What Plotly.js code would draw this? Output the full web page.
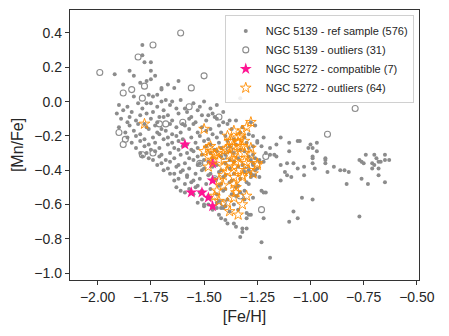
<!DOCTYPE html>
<html>
<head>
<meta charset="utf-8">
<script src="https://cdn.plot.ly/plotly-3.0.1.min.js"></script>
<style>
  html, body { margin: 0; padding: 0; background: #fff; }
  #chart { width: 449px; height: 336px; }
</style>
</head>
<body>
<div id="chart"></div>
<script>
// NGC 5139 reference sample: [Fe/H] and [Mn/Fe]
var refFeH = [
  // upper-left sparse part
  -1.79,-1.79,-1.78,-1.75,-1.92,-1.85,-1.83,-1.75,-1.73,-1.75,-1.77,-1.80,-1.88,-1.67,-1.64,-1.62,-1.70,-1.70,
  -1.76,-1.74,-1.72,-1.83,-1.70,-1.68,-1.65,-1.61,-1.77,-1.75,-1.50,-1.48,-1.46,-1.33,-1.28,-1.14,-1.06,
  // dense band
  -1.90,-1.86,-1.81,-1.72,-1.66,-1.59,-1.55,-1.52,-1.44,
  -1.88,-1.84,-1.79,-1.74,-1.69,-1.63,-1.58,-1.53,-1.47,-1.41,
  -1.91,-1.85,-1.80,-1.77,-1.71,-1.67,-1.62,-1.56,-1.51,-1.44,-1.38,
  -1.89,-1.86,-1.82,-1.78,-1.75,-1.72,-1.69,-1.65,-1.60,-1.57,-1.54,-1.49,-1.45,-1.41,-1.35,
  -1.90,-1.85,-1.81,-1.77,-1.73,-1.70,-1.66,-1.63,-1.59,-1.55,-1.51,-1.47,-1.43,-1.39,-1.32,-1.26,
  -1.87,-1.83,-1.80,-1.76,-1.72,-1.68,-1.65,-1.61,-1.57,-1.53,-1.49,-1.46,-1.42,-1.37,-1.33,-1.29,
  -1.86,-1.82,-1.78,-1.74,-1.71,-1.67,-1.63,-1.60,-1.56,-1.52,-1.48,-1.44,-1.40,-1.36,-1.31,-1.27,-1.22,
  -1.84,-1.80,-1.76,-1.73,-1.69,-1.65,-1.62,-1.58,-1.54,-1.50,-1.47,-1.43,-1.39,-1.35,-1.30,-1.25,
  -1.82,-1.78,-1.75,-1.71,-1.67,-1.64,-1.60,-1.56,-1.53,-1.49,-1.45,-1.42,-1.38,-1.33,-1.29,-1.23,
  -1.77,-1.73,-1.70,-1.66,-1.62,-1.58,-1.55,-1.51,-1.47,-1.44,-1.40,-1.36,-1.31,-1.27,-1.21,
  -1.76,-1.71,-1.68,-1.64,-1.61,-1.57,-1.53,-1.50,-1.46,-1.42,-1.38,-1.34,-1.29,-1.24,
  -1.70,-1.66,-1.62,-1.59,-1.55,-1.52,-1.48,-1.44,-1.40,-1.36,-1.32,-1.27,-1.22,
  -1.67,-1.63,-1.60,-1.57,-1.53,-1.50,-1.46,-1.42,-1.38,-1.34,-1.29,-1.25,
  -1.64,-1.61,-1.58,-1.54,-1.51,-1.47,-1.43,-1.40,-1.36,-1.31,-1.26,
  -1.62,-1.58,-1.55,-1.52,-1.48,-1.45,-1.41,-1.37,-1.33,-1.28,
  -1.59,-1.56,-1.53,-1.49,-1.46,-1.42,-1.38,-1.34,-1.29,
  -1.57,-1.54,-1.51,-1.47,-1.43,-1.40,-1.35,-1.31,
  -1.55,-1.52,-1.48,-1.44,-1.41,-1.37,-1.33,
  -1.51,-1.47,-1.43,-1.39,-1.35,-1.31,
  -1.48,-1.44,-1.40,-1.36,
  -1.46,-1.42,-1.38,-1.34,
  // lower-left edge
  -1.80,-1.79,-1.74,-1.72,-1.69,-1.66,-1.64,-1.63,-1.61,-1.59,-1.53,-1.50,-1.50,-1.44,-1.43,-1.42,-1.40,-1.39,-1.36,-1.35,-1.41,
  // right tail
  -1.27,-1.25,-1.19,-1.16,-1.10,-1.05,-1.00,-0.97,-0.99,-1.01,-0.97,-1.10,-1.19,-1.17,-1.16,-1.14,-1.11,-1.08,
  -1.12,-1.11,-1.09,-1.14,-1.06,-1.03,-1.03,-0.99,-0.99,-0.99,-0.98,-0.93,-0.93,-0.93,-0.92,-0.89,-0.86,-0.84,
  -0.82,-0.83,-0.74,-0.70,-0.65,-0.77,-0.76,-0.75,-0.71,-0.70,-0.69,-0.68,-0.67,-0.65,-0.63,-0.71,-0.68,-0.68,
  -0.65,-0.73,-0.76,
  // lower right scatter
  -1.04,-0.99,-1.08,-1.06,-1.10,-0.77,-1.23,-1.19,-1.23,-1.22,-1.27,-1.29,-1.30,-1.22,-1.30,-1.32,-1.32,-1.33,
  -1.26,-1.27,-1.26,-1.28,-1.27,-1.24,-1.30,-1.28,-1.24,-1.30,-1.28,-1.21
];
var refMnFe = [
  0.33,0.27,0.23,0.23,0.16,0.18,0.15,0.18,0.15,0.13,0.12,0.11,0.10,0.10,0.08,0.12,0.08,0.07,
  0.04,0.03,0.04,0.03,0.00,0.01,0.00,0.01,-0.01,-0.01,0.00,-0.08,-0.07,0.02,-0.12,-0.21,-0.23,
  -0.02,-0.03,-0.01,-0.03,-0.02,-0.04,-0.01,-0.03,-0.02,
  -0.05,-0.06,-0.04,-0.06,-0.05,-0.04,-0.06,-0.05,-0.04,-0.06,
  -0.07,-0.09,-0.08,-0.07,-0.09,-0.08,-0.07,-0.09,-0.08,-0.10,-0.11,
  -0.10,-0.12,-0.11,-0.13,-0.10,-0.12,-0.09,-0.11,-0.13,-0.10,-0.12,-0.11,-0.09,-0.12,-0.11,
  -0.15,-0.14,-0.13,-0.15,-0.14,-0.16,-0.13,-0.15,-0.14,-0.13,-0.15,-0.16,-0.14,-0.13,-0.15,-0.14,
  -0.18,-0.17,-0.19,-0.16,-0.18,-0.17,-0.19,-0.18,-0.16,-0.18,-0.17,-0.19,-0.18,-0.16,-0.18,-0.19,
  -0.21,-0.20,-0.22,-0.21,-0.19,-0.21,-0.20,-0.22,-0.21,-0.20,-0.22,-0.21,-0.20,-0.22,-0.21,-0.20,-0.21,
  -0.24,-0.23,-0.25,-0.24,-0.22,-0.24,-0.23,-0.25,-0.24,-0.23,-0.25,-0.24,-0.23,-0.25,-0.24,-0.23,
  -0.27,-0.26,-0.28,-0.27,-0.25,-0.27,-0.26,-0.28,-0.27,-0.26,-0.28,-0.27,-0.26,-0.28,-0.27,-0.26,
  -0.30,-0.29,-0.31,-0.30,-0.28,-0.30,-0.29,-0.31,-0.30,-0.29,-0.31,-0.30,-0.29,-0.31,-0.30,
  -0.33,-0.32,-0.34,-0.33,-0.31,-0.33,-0.32,-0.34,-0.33,-0.32,-0.34,-0.33,-0.32,-0.34,
  -0.36,-0.35,-0.37,-0.36,-0.34,-0.36,-0.35,-0.37,-0.36,-0.35,-0.37,-0.36,-0.35,
  -0.39,-0.38,-0.40,-0.39,-0.37,-0.39,-0.38,-0.40,-0.39,-0.38,-0.40,-0.39,
  -0.42,-0.41,-0.43,-0.42,-0.40,-0.42,-0.41,-0.43,-0.42,-0.41,-0.43,
  -0.45,-0.44,-0.46,-0.45,-0.43,-0.45,-0.44,-0.46,-0.45,-0.44,
  -0.48,-0.47,-0.49,-0.48,-0.46,-0.48,-0.47,-0.49,-0.48,
  -0.51,-0.50,-0.52,-0.51,-0.49,-0.51,-0.50,-0.52,
  -0.54,-0.53,-0.55,-0.54,-0.52,-0.54,-0.53,
  -0.57,-0.56,-0.58,-0.57,-0.55,-0.57,
  -0.60,-0.59,-0.61,-0.60,
  -0.63,-0.62,-0.64,-0.63,
  -0.30,-0.32,-0.34,-0.37,-0.40,-0.42,-0.46,-0.50,-0.52,-0.53,-0.59,-0.60,-0.61,-0.62,-0.66,-0.68,-0.69,-0.71,-0.71,-0.73,-0.62,
  -0.26,-0.24,-0.27,-0.25,-0.24,-0.23,-0.25,-0.24,-0.27,-0.27,-0.29,-0.29,-0.31,-0.31,-0.32,-0.37,-0.36,-0.36,
  -0.41,-0.43,-0.44,-0.46,-0.39,-0.38,-0.43,-0.32,-0.33,-0.36,-0.39,-0.33,-0.34,-0.36,-0.41,-0.38,-0.40,-0.40,
  -0.41,-0.48,-0.31,-0.31,-0.31,-0.34,-0.35,-0.36,-0.36,-0.37,-0.33,-0.35,-0.35,-0.34,-0.34,-0.39,-0.39,-0.43,
  -0.47,-0.48,-0.45,
  -0.56,-0.57,-0.64,-0.68,-0.70,-0.67,-0.82,-0.91,-0.52,-0.53,-0.56,-0.66,-0.68,-0.68,-0.74,-0.74,-0.76,-0.79,
  -0.33,-0.37,-0.40,-0.42,-0.43,-0.44,-0.47,-0.34,-0.35,-0.65,-0.66,-0.53
];

// NGC 5139 outliers
var outFeH = [-1.99,-1.61,-1.74,-1.81,-1.84,-1.88,-1.78,-1.79,-1.56,-1.57,-1.50,-1.43,-1.71,-1.68,-1.90,-1.87,
  -1.88,-0.79,-0.92,-1.21,-1.23,-1.41,-1.79,-1.74,-1.33,-1.41,-1.52,-1.30,-1.60,-1.45,-1.38];
var outMnFe = [0.17,0.40,0.33,0.26,0.07,0.05,0.09,0.02,0.08,-0.03,0.15,-0.09,-0.13,-0.13,-0.18,-0.22,
  -0.25,-0.04,-0.19,-0.32,-0.63,-0.32,-0.31,-0.30,-0.55,-0.59,-0.36,-0.40,-0.12,-0.45,-0.28];

// NGC 5272 compatible
var compFeH = [-1.59,-1.46,-1.46,-1.56,-1.51,-1.48,-1.46];
var compMnFe = [-0.25,-0.36,-0.46,-0.53,-0.53,-0.56,-0.61];

// NGC 5272 outliers
var m3FeH = [-1.78,-1.50,-1.47,-1.39,-1.34,-1.32,-1.30,-1.28,-1.36,-1.33,-1.38,-1.34,-1.40,-1.36,-1.48,-1.45,
  -1.38,-1.34,-1.28,-1.43,-1.35,-1.31,-1.25,-1.48,-1.41,-1.36,-1.34,-1.41,-1.36,-1.32,-1.43,-1.36,
  -1.35,-1.45,-1.30,-1.36,-1.39,-1.32,-1.38,-1.34,-1.44,-1.48,-1.44,-1.39,-1.31,-1.39,-1.27,-1.32,
  -1.25,-1.30,-1.32,-1.33,-1.37,-1.43,-1.31,-1.46,-1.38,-1.29,-1.50,-1.35,-1.41,-1.43,-1.36,-1.28];
var m3MnFe = [-0.13,-0.16,-0.26,-0.20,-0.21,-0.17,-0.15,-0.12,-0.26,-0.26,-0.23,-0.24,-0.28,-0.30,-0.32,-0.31,
  -0.31,-0.33,-0.31,-0.34,-0.35,-0.35,-0.37,-0.38,-0.38,-0.38,-0.40,-0.43,-0.44,-0.43,-0.46,-0.48,
  -0.50,-0.55,-0.55,-0.56,-0.59,-0.60,-0.64,-0.66,-0.52,-0.27,-0.30,-0.27,-0.30,-0.41,-0.42,-0.26,
  -0.36,-0.36,-0.44,-0.20,-0.23,-0.29,-0.23,-0.34,-0.36,-0.40,-0.29,-0.53,-0.49,-0.58,-0.17,-0.27];

var font = 'Liberation Sans, Arial, sans-serif';

var traces = [
  {
    x: refFeH, y: refMnFe, type: 'scatter', mode: 'markers',
    name: 'NGC 5139 - ref sample (576)',
    marker: { color: '#8c8c8c', size: 4 }
  },
  {
    x: outFeH, y: outMnFe, type: 'scatter', mode: 'markers',
    name: 'NGC 5139 - outliers (31)',
    marker: { symbol: 'circle-open', color: '#8c8c8c', size: 6, line: { width: 1.1 } }
  },
  {
    x: compFeH, y: compMnFe, type: 'scatter', mode: 'markers',
    name: 'NGC 5272 - compatible (7)',
    marker: { symbol: 'star', color: '#ff1493', size: 9 }
  },
  {
    x: m3FeH, y: m3MnFe, type: 'scatter', mode: 'markers',
    name: 'NGC 5272 - outliers (64)',
    marker: { symbol: 'star-open', color: '#ff8c00', size: 8, line: { width: 0.9 } }
  }
];

var axisStyle = {
  showgrid: false, zeroline: false,
  showline: true, mirror: true, linecolor: '#333', linewidth: 1.2,
  ticks: 'outside', ticklen: 4, tickcolor: '#333', tickwidth: 1,
  tickfont: { family: font, size: 14, color: '#262626' }
};

var layout = {
  width: 449, height: 336,
  margin: { l: 70, r: 30, t: 10, b: 56 },
  paper_bgcolor: '#fff', plot_bgcolor: '#fff',
  font: { family: font, color: '#262626' },
  showlegend: true,
  legend: {
    x: 0.985, y: 0.98, xanchor: 'right', yanchor: 'top',
    bgcolor: 'rgba(255,255,255,0.85)', bordercolor: '#d0d0d0', borderwidth: 1,
    font: { family: font, size: 11, color: '#262626' },
    tracegroupgap: 0
  },
  xaxis: Object.assign({}, axisStyle, {
    range: [-2.13, -0.49], tick0: -2, dtick: 0.25, tickformat: '.2f',
    title: { text: '[Fe/H]', font: { family: font, size: 16 }, standoff: 6 }
  }),
  yaxis: Object.assign({}, axisStyle, {
    range: [-1.04, 0.534], tick0: 0, dtick: 0.2, tickformat: '.1f',
    title: { text: '[Mn/Fe]', font: { family: font, size: 16 }, standoff: 6 }
  })
};

Plotly.newPlot('chart', traces, layout, { displayModeBar: false, staticPlot: true });
</script>
</body>
</html>
